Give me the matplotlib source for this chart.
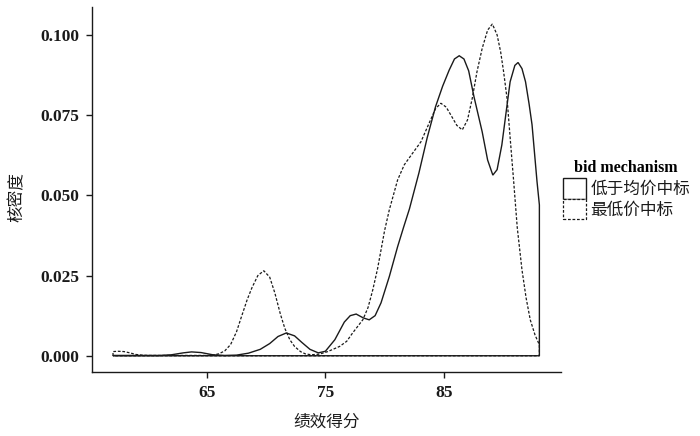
import matplotlib
matplotlib.use("Agg")
import matplotlib.pyplot as plt
from matplotlib.patches import Patch
from matplotlib.ticker import FormatStrFormatter

# ---- data (x: 绩效得分, y: 核密度) ----
solid_x = [57.07, 58, 60, 61, 62, 63, 63.7, 64.5, 65.5, 66.5, 67.5, 68.5, 69.5, 70.3,
           71, 71.7, 72.4, 73, 73.7, 74.4, 75, 75.8, 76.6, 77.1, 77.6, 78.2, 78.7,
           79.2, 79.7, 80.4, 81.1, 81.6, 82.1, 82.9, 83.6, 84.3, 84.9, 85.45, 85.9,
           86.3, 86.7, 87.1, 87.55, 88.24, 88.7, 89.14, 89.5, 89.9, 90.3, 90.6, 91.0,
           91.27, 91.6, 91.9, 92.2, 92.45, 92.87, 93.07]
solid_y = [0.0001, 0.0001, 0.0001, 0.0001, 0.0003, 0.0009, 0.0012, 0.0010, 0.0003,
           0.0001, 0.0002, 0.0008, 0.0020, 0.0038, 0.0060, 0.0071, 0.0062, 0.0042,
           0.0020, 0.0009, 0.0014, 0.0050, 0.0105, 0.0125, 0.0130, 0.0118, 0.0112,
           0.0125, 0.0165, 0.0247, 0.0340, 0.0400, 0.0458, 0.0570, 0.0680, 0.0776,
           0.0840, 0.0890, 0.0925, 0.0935, 0.0925, 0.0888, 0.0807, 0.0698, 0.0610,
           0.0563, 0.0580, 0.0657, 0.0770, 0.0854, 0.0905, 0.0914, 0.0895, 0.0854,
           0.0785, 0.0720, 0.0543, 0.0470]

dash_x = [57.07, 57.5, 58, 58.5, 59, 59.5, 60, 62, 64, 65, 65.5, 66, 66.5, 67, 67.5,
          67.9, 68.4, 68.8, 69.3, 69.8, 70.3, 70.74, 71.2, 71.58, 72.0, 72.4, 72.9,
          73.3, 73.8, 74.5, 75.2, 76.2, 76.8, 77.3, 78.16, 78.6, 79.0, 79.4, 79.7,
          80.0, 80.4, 81.1, 81.66, 82.36, 83.07, 83.76, 84.3, 84.75, 85.2, 85.6, 86.1,
          86.56, 87.0, 87.4, 87.8, 88.24, 88.7, 89.1, 89.5, 89.8, 90.05, 90.34, 90.6,
          90.9, 91.2, 91.6, 91.95, 92.3, 92.7, 93.07]
dash_y = [0.0013, 0.0014, 0.0013, 0.0009, 0.0004, 0.0002, 0.0001, 0.0001, 0.0001,
          0.0001, 0.0002, 0.0006, 0.0015, 0.0035, 0.0075, 0.0120, 0.0175, 0.0212,
          0.0250, 0.0265, 0.0245, 0.0195, 0.0130, 0.0085, 0.0050, 0.0029, 0.0013,
          0.0006, 0.0003, 0.0005, 0.0013, 0.0029, 0.0045, 0.0071, 0.0112, 0.0150,
          0.0205, 0.0270, 0.0330, 0.0390, 0.0455, 0.0548, 0.0595, 0.0631, 0.0667,
          0.0725, 0.0770, 0.0787, 0.0775, 0.0750, 0.0718, 0.0704, 0.0735, 0.0802,
          0.0885, 0.0958, 0.1015, 0.1034, 0.1000, 0.0947, 0.0885, 0.0802, 0.0680,
          0.0543, 0.0400, 0.0268, 0.0180, 0.0112, 0.0065, 0.0034]

series_labels = ["低于均价中标", "最低价中标"]
x_ticks = [65, 75, 85]
y_ticks = [0.000, 0.025, 0.050, 0.075, 0.100]
x_title = "绩效得分"
y_title = "核密度"
legend_title = "bid mechanism"

SERIF = ["Liberation Serif", "DejaVu Serif"]
CJK = ["Noto Sans CJK SC", "DejaVu Sans"]
INK = "#1a1a1a"
DASH = (0, (2.2, 1.4))

fig = plt.figure(figsize=(7.0, 4.36), dpi=100)
ax = fig.add_axes([0.131, 0.146, 0.801 - 0.131, 0.983 - 0.146])


def closed(xs, ys):
    return [xs[0]] + list(xs) + [xs[-1], xs[0]], [0.0] + list(ys) + [0.0, 0.0]


sx, sy = closed(solid_x, solid_y)
dx, dy = closed(dash_x, dash_y)
ax.fill(dx, dy, fill=False, edgecolor=INK, linewidth=0.9, linestyle=DASH)
ax.fill(sx, sy, fill=False, edgecolor=INK, linewidth=1.0, linestyle="-")

xmin, xmax = min(solid_x[0], dash_x[0]), max(solid_x[-1], dash_x[-1])
xr = xmax - xmin
ax.set_xlim(xmin - 0.05 * xr, xmax + 0.05 * xr)
ymax = max(max(solid_y), max(dash_y))
ax.set_ylim(-0.05 * ymax, 1.05 * ymax)

ax.set_xticks(x_ticks)
ax.set_yticks(y_ticks)
ax.yaxis.set_major_formatter(FormatStrFormatter("%.3f"))
for s in ["top", "right"]:
    ax.spines[s].set_visible(False)
for s in ["left", "bottom"]:
    ax.spines[s].set_linewidth(1.0)
    ax.spines[s].set_color(INK)
ax.tick_params(axis="both", direction="out", length=4, width=1.0, color=INK,
               pad=5, labelsize=12.5, labelcolor=INK)
for lab in ax.get_xticklabels() + ax.get_yticklabels():
    lab.set_family(SERIF)
    lab.set_fontweight("bold")

ax.set_xlabel(x_title, family=CJK, fontsize=12, color=INK)
ax.set_ylabel(y_title, family=CJK, fontsize=12, color=INK)
ax.xaxis.set_label_coords(0.5, -0.114)
ax.yaxis.set_label_coords(-0.141, 0.48)

handles = [Patch(facecolor="white", edgecolor=INK, linewidth=1.0, linestyle="-"),
           Patch(facecolor="white", edgecolor=INK, linewidth=0.9, linestyle=DASH)]
leg = fig.legend(handles, series_labels, loc="upper left",
                 bbox_to_anchor=(561 / 700, 1 - 158 / 436),
                 frameon=False, prop={"family": CJK, "size": 12},
                 handlelength=1.4, handleheight=1.5, handletextpad=0.25,
                 labelspacing=0.0, borderaxespad=0, borderpad=0.1,
                 title=legend_title,
                 title_fontproperties={"family": SERIF, "size": 11.5, "weight": "bold"})
leg._legend_box.align = "center"
leg._legend_box.sep = 2
for t in leg.get_texts():
    t.set_color(INK)

fig.savefig("out.png", dpi=100)
